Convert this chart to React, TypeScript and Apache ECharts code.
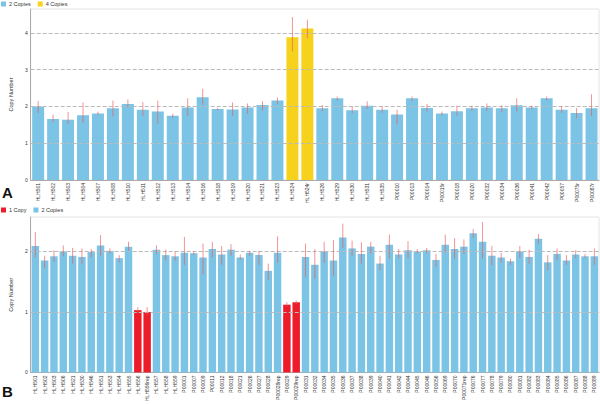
import React, { useEffect, useRef } from 'react';
import * as echarts from 'echarts';

const labelsA = ['HLH501','HLH502','HLH503','HLH504','HLH507','HLH508','HLH510','HLH511','HLH512','HLH513','HLH514','HLH516','HLH518','HLH519','HLH520','HLH521','HLH523','HLH524','HLH524r','HLH526','HLH529','HLH530','HLH531','HLH535','P00010','P00013','P00014','P00015r','P00018','P00020','P00032','P00034','P00036','P00041','P00042','P00057','P00075r','P00087r'];
const copiesA = [2,2,2,2,2,2,2,2,2,2,2,2,2,2,2,2,2,4,4,2,2,2,2,2,2,2,2,2,2,2,2,2,2,2,2,2,2,2];
const valuesA = [2.0,1.66,1.64,1.76,1.81,1.95,2.07,1.91,1.86,1.75,1.97,2.25,1.93,1.92,1.97,2.04,2.16,3.88,4.12,1.95,2.22,1.9,2.02,1.91,1.78,2.22,1.96,1.81,1.87,1.95,1.97,1.95,2.03,1.97,2.22,1.91,1.82,1.95];
const lowA = [1.82,1.57,1.53,1.55,1.77,1.73,1.98,1.75,1.53,1.69,1.75,2.05,1.89,1.75,1.8,1.89,2.07,3.5,3.85,1.87,2.16,1.81,1.93,1.83,1.51,2.14,1.86,1.75,1.75,1.88,1.88,1.85,1.86,1.92,2.17,1.83,1.68,1.74];
const highA = [2.15,1.78,1.85,2.11,1.86,2.16,2.19,2.12,2.16,1.8,2.22,2.48,1.96,2.11,2.08,2.14,2.24,4.43,4.36,2.04,2.27,2.0,2.14,2.0,1.91,2.27,2.07,1.86,2.02,2.02,2.08,2.03,2.22,2.02,2.27,2.0,1.96,2.33];

const labelsB = ['HLH501','HLH502','HLH503','HLH506','HLH521','HLH530','HLH546','HLH551','HLH553','HLH554','HLH555','HLH556','HLH556rep','HLH557','HLH558','HLH559','P00001','P00007','P00009','P00011','P00012','P00018','P00021','P00026','P00027','P00028','P00028rep','P00029','P00029rep','P00031','P00032','P00034','P00035','P00036','P00037','P00038','P00039','P00040','P00041','P00042','P00044','P00045','P00046','P00056','P00069','P00070','P00071rep','P00076','P00077','P00078','P00079','P00080','P00081','P00082','P00083','P00084','P00085','P00086','P00087','P00088','P00089'];
const copiesB = [2,2,2,2,2,2,2,2,2,2,2,1,1,2,2,2,2,2,2,2,2,2,2,2,2,2,2,1,1,2,2,2,2,2,2,2,2,2,2,2,2,2,2,2,2,2,2,2,2,2,2,2,2,2,2,2,2,2,2,2,2];
const valuesB = [2.09,1.85,1.92,2.0,1.93,1.91,1.99,2.1,2.01,1.89,2.08,1.03,1.0,2.03,1.94,1.92,1.98,1.97,1.9,2.04,1.95,2.03,1.9,1.98,1.94,1.68,1.98,1.12,1.16,1.91,1.78,2.0,1.85,2.23,2.05,1.96,2.08,1.8,2.11,1.95,2.02,2.0,2.02,1.86,2.11,2.04,2.08,2.3,2.16,1.93,1.9,1.84,2.0,1.91,2.21,1.82,1.96,1.85,1.95,1.92,1.92];
const lowB = [1.9,1.72,1.83,1.92,1.8,1.79,1.9,1.93,1.97,1.82,2.01,0.98,0.95,1.96,1.85,1.85,1.78,1.94,1.62,1.9,1.78,1.93,1.86,1.93,1.78,1.53,1.81,1.09,1.13,1.58,1.55,1.81,1.6,2.06,1.93,1.8,1.97,1.69,1.88,1.89,1.89,1.97,1.97,1.74,1.99,1.88,1.96,2.23,1.88,1.77,1.82,1.78,1.89,1.8,2.13,1.69,1.85,1.78,1.89,1.89,1.78];
const highB = [2.32,1.93,2.02,2.1,2.06,2.05,2.04,2.27,2.05,1.94,2.16,1.08,1.08,2.1,2.03,2.0,2.24,2.0,2.13,2.16,2.09,2.12,1.95,2.01,2.01,1.8,2.25,1.16,1.19,2.13,2.04,2.16,2.19,2.46,2.18,2.15,2.16,1.93,2.28,2.04,2.17,2.04,2.06,1.96,2.28,2.22,2.2,2.37,2.49,2.09,1.98,1.88,2.09,2.03,2.29,1.94,2.05,1.94,2.02,1.96,2.05];

const gridLinesA = [1, 2, 3, 4];
const gridLinesB = [1, 2];

const BLUE = '#7BC4E5';
const YELLOW = '#F6D21D';
const RED = '#EC1C2B';
const ERR = 'rgba(236,90,90,0.65)';
const TXT = '#333';
const FONT = 'Arial, "Liberation Sans", sans-serif';

function pick(values: number[], copies: number[], c: number) {
  return values.map((v, i) => (copies[i] === c ? v : '-'));
}

function errSeries(ai: number, low: number[], high: number[]) {
  return {
    type: 'custom',
    xAxisIndex: ai,
    yAxisIndex: ai,
    silent: true,
    z: 5,
    data: low.map((l, i) => [i, l, high[i]]),
    encode: { x: 0, y: [1, 2] },
    renderItem: (params: any, api: any) => {
      const p1 = api.coord([api.value(0), api.value(1)]);
      const p2 = api.coord([api.value(0), api.value(2)]);
      return {
        type: 'line',
        shape: { x1: p1[0], y1: p1[1], x2: p2[0], y2: p2[1] },
        style: { stroke: ERR, lineWidth: 1 },
      };
    },
  };
}

function gridLineSeries(ai: number, lines: number[]) {
  return {
    type: 'line',
    xAxisIndex: ai,
    yAxisIndex: ai,
    data: [],
    silent: true,
    z: 1,
    markLine: {
      silent: true,
      symbol: 'none',
      label: { show: false },
      lineStyle: { type: 'dashed', color: '#bbb', width: 1 },
      data: lines.map((v) => ({ yAxis: v })),
    },
  };
}

function xAxis(ai: number, labels: string[]) {
  return {
    type: 'category',
    gridIndex: ai,
    data: labels,
    axisLine: { lineStyle: { color: '#aaa' } },
    axisTick: { show: false },
    axisLabel: { interval: 0, rotate: 90, fontSize: 5, color: TXT, margin: 3, fontFamily: FONT },
  };
}

function yAxis(ai: number, max: number) {
  return {
    type: 'value',
    gridIndex: ai,
    min: 0,
    max,
    interval: 1,
    name: 'Copy Number',
    nameLocation: 'middle',
    nameRotate: 90,
    nameGap: 9,
    nameTextStyle: { fontSize: 5.5, color: TXT, fontFamily: FONT },
    axisLine: { show: true, lineStyle: { color: '#aaa' } },
    axisTick: { show: false },
    splitLine: { show: false },
    axisLabel: {
      fontSize: 5,
      color: TXT,
      margin: 3,
      fontFamily: FONT,
      formatter: (v: number) => (Number.isInteger(v) ? String(v) : ''),
    },
  };
}

export default function App() {
  const ref = useRef<HTMLDivElement>(null);
  useEffect(() => {
    if (!ref.current) return;
    const chart = echarts.init(ref.current, null, { renderer: 'svg' });
    const barCommon = { barWidth: '80%', barGap: '-100%', z: 2 };
    chart.setOption({
      animation: false,
      backgroundColor: '#fff',
      textStyle: { fontFamily: FONT },
      grid: [
        { left: 16, right: 1, top: 9, height: 171, show: true, borderColor: '#e4e4e4', borderWidth: 1 },
        { left: 16, right: 1, top: 217, height: 159, show: true, borderColor: '#e4e4e4', borderWidth: 1 },
      ],
      legend: [
        {
          data: ['2 Copies', '4 Copies'],
          left: 1,
          top: 1,
          icon: 'rect',
          itemWidth: 5,
          itemHeight: 5,
          itemGap: 7,
          textStyle: { fontSize: 5.5, color: TXT, padding: [0, 0, 0, -2] },
          padding: 0,
        },
        {
          data: ['1 Copy', '2 Copies'],
          left: 1,
          top: 207,
          icon: 'rect',
          itemWidth: 5,
          itemHeight: 5,
          itemGap: 7,
          textStyle: { fontSize: 5.5, color: TXT, padding: [0, 0, 0, -2] },
          padding: 0,
        },
      ],
      xAxis: [xAxis(0, labelsA), xAxis(1, labelsB)],
      yAxis: [yAxis(0, 4.65), yAxis(1, 2.57)],
      graphic: [
        { type: 'text', left: 2, top: 185, style: { text: 'A', fontSize: 15, fontWeight: 'bold', fill: '#111', fontFamily: FONT } },
        { type: 'text', left: 2, top: 384, style: { text: 'B', fontSize: 15, fontWeight: 'bold', fill: '#111', fontFamily: FONT } },
      ],
      series: [
        gridLineSeries(0, gridLinesA),
        gridLineSeries(1, gridLinesB),
        { ...barCommon, type: 'bar', name: '2 Copies', xAxisIndex: 0, yAxisIndex: 0, data: pick(valuesA, copiesA, 2), itemStyle: { color: BLUE } },
        { ...barCommon, type: 'bar', name: '4 Copies', xAxisIndex: 0, yAxisIndex: 0, data: pick(valuesA, copiesA, 4), itemStyle: { color: YELLOW } },
        { ...barCommon, type: 'bar', name: '1 Copy', xAxisIndex: 1, yAxisIndex: 1, data: pick(valuesB, copiesB, 1), itemStyle: { color: RED } },
        { ...barCommon, type: 'bar', name: '2 Copies', xAxisIndex: 1, yAxisIndex: 1, data: pick(valuesB, copiesB, 2), itemStyle: { color: BLUE } },
        errSeries(0, lowA, highA),
        errSeries(1, lowB, highB),
      ],
    });
    return () => chart.dispose();
  }, []);
  return <div ref={ref} style={{ position: 'absolute', left: 0, top: 0, width: 600, height: 404 }} />;
}
